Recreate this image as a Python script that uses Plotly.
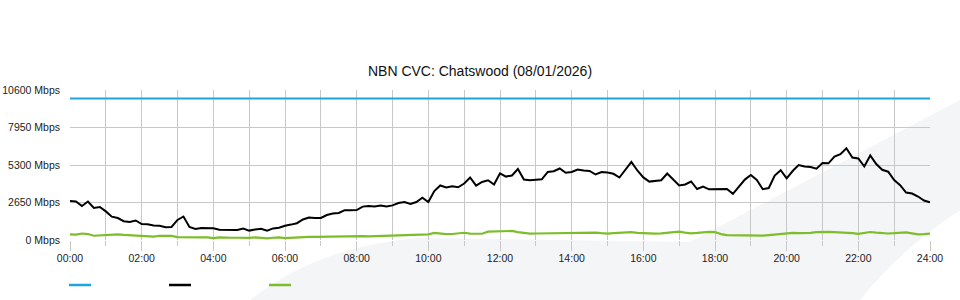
import numpy as np
import plotly.graph_objects as go

# ---------------- data ----------------
title_text = "NBN CVC: Chatswood (08/01/2026)"
interval_min = 10  # sampling interval of the series (minutes)

capacity_hours = [0, 24]
capacity_mbps = [10000, 10000]

download_mbps = [
    2756, 2728, 2403, 2721, 2261, 2332, 2021, 1647, 1555, 1329,
    1272, 1378, 1131, 1117, 1025, 1011, 905, 919, 1420, 1661,
    919, 777, 848, 855, 834, 721, 707, 707, 707, 813,
    664, 742, 799, 664, 820, 862, 1011, 1088, 1187, 1449,
    1590, 1555, 1555, 1767, 1866, 1908, 2106, 2106, 2120, 2360,
    2403, 2360, 2438, 2367, 2445, 2615, 2685, 2544, 2685, 2982,
    2685, 3463, 3851, 3710, 3795, 3724, 3993, 4417, 3844, 4099,
    4219, 3922, 4714, 4480, 4558, 5018, 4268, 4226, 4240, 4290,
    4806, 4862, 5053, 4749, 4806, 4982, 4912, 4876, 4629, 4806,
    4770, 4678, 4417, 4947, 5512, 4912, 4424, 4127, 4184, 4226,
    4700, 4311, 3859, 3922, 4134, 3604, 3781, 3583, 3590, 3583,
    3604, 3265, 3745, 4268, 4594, 4240, 3590, 3675, 4558, 4933,
    4360, 4876, 5300, 5194, 5159, 5039, 5442, 5420, 5901, 6063,
    6480, 5830, 5760, 5194, 5972, 5371, 4961, 4827, 4240, 3873,
    3350, 3286, 3074, 2791, 2664,
]

upload_mbps = [
    403, 375, 460, 420, 300, 330, 360, 340, 400, 360,
    340, 320, 265, 250, 245, 300, 320, 290, 200, 185,
    170, 170, 180, 188, 140, 180, 150, 160, 160, 140,
    150, 180, 140, 120, 160, 180, 130, 160, 188, 200,
    215, 225, 236, 236, 236, 236, 240, 265, 283, 270,
    262, 280, 295, 306, 315, 325, 340, 380, 400, 400,
    400, 500, 450, 410, 425, 460, 510, 450, 420, 440,
    590, 610, 589, 630, 640, 560, 490, 450, 460, 465,
    470, 460, 450, 470, 490, 510, 520, 520, 520, 480,
    455, 490, 520, 545, 560, 510, 480, 460, 455, 465,
    520, 560, 585, 520, 475, 500, 540, 575, 560, 420,
    350, 340, 330, 340, 345, 353, 306, 350, 390, 440,
    500, 510, 490, 475, 500, 550, 585, 570, 550, 540,
    530, 490, 430, 500, 565, 520, 485, 460, 480, 530,
    540, 470, 400, 420, 450,
]

ytick_vals = [0, 2650, 5300, 7950, 10600]
ytick_text = ["0 Mbps", "2650 Mbps", "5300 Mbps", "7950 Mbps", "10600 Mbps"]
xtick_vals = [0, 2, 4, 6, 8, 10, 12, 14, 16, 18, 20, 22, 24]
xtick_text = ["00:00", "02:00", "04:00", "06:00", "08:00", "10:00", "12:00",
              "14:00", "16:00", "18:00", "20:00", "22:00", "24:00"]

series_colors = ["#1ea5e0", "#000000", "#7dbd2a"]

# ---------------- figure ----------------
hours = np.arange(len(download_mbps)) * interval_min / 60.0

fig = go.Figure()
fig.add_trace(go.Scatter(x=capacity_hours, y=capacity_mbps, mode="lines",
                         line=dict(color=series_colors[0], width=2.2),
                         showlegend=False, hoverinfo="skip"))
fig.add_trace(go.Scatter(x=hours, y=upload_mbps, mode="lines",
                         line=dict(color=series_colors[2], width=2.2),
                         showlegend=False))
fig.add_trace(go.Scatter(x=hours, y=download_mbps, mode="lines",
                         line=dict(color=series_colors[1], width=2),
                         showlegend=False))

L, R, T, B = 70, 30, 90, 60
W, H = 960, 300
pw, ph = W - L - R, H - T - B


def px(x):
    return (x - L) / pw


def py(y):
    return (H - B - y) / ph


# faint background watermark swoosh
wm = (f"M {px(250)},{py(300)} "
      f"Q {px(320)},{py(245)} {px(420)},{py(238)} "
      f"L {px(690)},{py(242)} "
      f"L {px(960)},{py(100)} "
      f"L {px(960)},{py(210)} "
      f"Q {px(900)},{py(250)} {px(860)},{py(300)} Z")

shapes = [dict(type="path", path=wm, xref="paper", yref="paper",
               fillcolor="#f4f5f7", line=dict(width=0), layer="below")]

# legend keys (symbols only, no text)
for i, c in enumerate(series_colors):
    x0 = 69 + 100 * i
    shapes.append(dict(type="line", xref="paper", yref="paper",
                       x0=px(x0), x1=px(x0 + 22), y0=py(285), y1=py(285),
                       line=dict(color=c, width=2.5)))

fig.update_layout(
    width=W, height=H,
    margin=dict(l=L, r=R, t=T, b=B, pad=0, autoexpand=False),
    paper_bgcolor="white",
    plot_bgcolor="rgba(0,0,0,0)",
    font=dict(family="Liberation Sans, Arial, sans-serif", size=10, color="#222"),
    title=dict(text=title_text, x=0.5, xref="container", xanchor="center",
               y=1 - 71 / 300, yref="container", yanchor="middle",
               font=dict(size=14, color="#111")),
    shapes=shapes,
    showlegend=False,
    xaxis=dict(range=[0, 24], tickmode="array", tickvals=xtick_vals, ticktext=xtick_text,
               ticks="outside", ticklen=10, tickcolor="#c8c8c8", tickwidth=1,
               showgrid=True, gridcolor="#c8c8c8", gridwidth=1,
               minor=dict(dtick=1, tick0=0, showgrid=True, gridcolor="#c8c8c8",
                          ticks="outside", ticklen=5, tickcolor="#c8c8c8"),
               zeroline=False, showline=False, fixedrange=True, automargin=False,
               ticklabelstandoff=-2,
               tickfont=dict(size=10.5, color="#222")),
    yaxis=dict(range=[0, 10600], tickmode="array", tickvals=ytick_vals, ticktext=ytick_text,
               ticks="", ticklabelstandoff=9, showgrid=True, gridcolor="#c8c8c8", gridwidth=1,
               zeroline=False, showline=False, fixedrange=True, automargin=False,
               tickfont=dict(size=10.5, color="#222")),
)

fig.write_html("out.html")
